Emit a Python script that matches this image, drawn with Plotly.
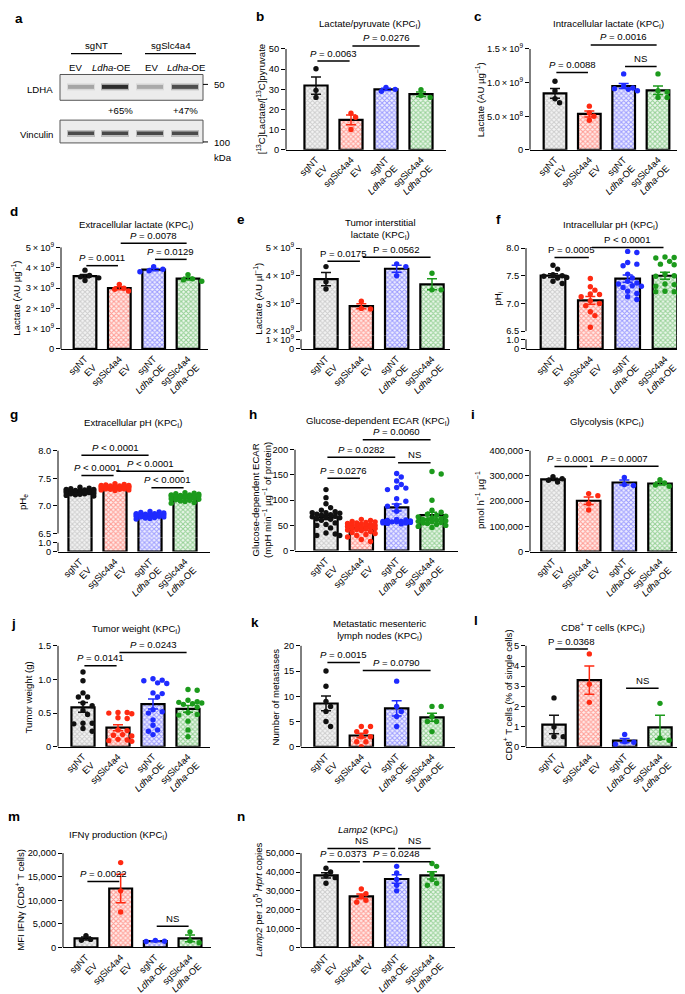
import numpy as np
import plotly.graph_objects as go

W, H = 685, 994
FONT = "Liberation Sans, Arial, sans-serif"
TICK_FS = 9.3
TXT_FS = 9.6
LETTER_FS = 13.5
TS = "\u2009"  # thin space used around the multiplication sign

# ---------------- categories / colours ----------------
groups = ["sgNT<br>EV", "sgSlc4a4<br>EV", "sgNT<br><i>Ldha</i>-OE", "sgSlc4a4<br><i>Ldha</i>-OE"]
point_colors = ["#111111", "#ff2a12", "#1f2bff", "#1c9a1c"]
fill_fg = ["#a9a9a9", "#ff4a3c", "#4c4cff", "#40aa40"]
fill_bg = ["#f4f4f4", "#fff0ee", "#f0f0ff", "#eef8ee"]

# ---------------- panel a (western blot) ----------------
blot_genotypes = ["sgNT", "sgSlc4a4"]
blot_lanes = ["EV", "<i>Ldha</i>-OE", "EV", "<i>Ldha</i>-OE"]
ldha_band = [0.32, 1.0, 0.30, 0.78]
vinculin_band = [0.8, 0.82, 0.82, 0.8]
ldha_change = ["+65%", "+47%"]
mw_markers = ["50", "100"]

# ---------------- data (per group: sgNT EV, sgSlc4a4 EV, sgNT Ldha-OE, sgSlc4a4 Ldha-OE) ----------------
b_vals = [[40.2, 29.5, 26.0], [18.2, 16.2, 10.1], [29.0, 31.0, 30.0], [26.0, 29.8, 27.0]]
c_vals = [[1.02e9, 0.88e9, 0.76e9, 0.70e9], [0.65e9, 0.55e9, 0.50e9, 0.44e9],
          [1.13e9, 0.95e9, 0.91e9, 0.92e9, 0.88e9, 0.90e9], [1.13e9, 0.88e9, 0.86e9, 0.78e9, 0.78e9]]
d_vals = [[3.88e9, 3.62e9, 3.55e9, 3.37e9, 3.50e9], [3.18e9, 2.99e9, 2.94e9, 2.85e9],
          [3.80e9, 3.92e9, 4.05e9, 3.85e9], [3.66e9, 3.45e9, 3.40e9, 3.33e9]]
e_vals = [[4.33e9, 3.78e9, 3.52e9], [3.08e9, 2.82e9, 2.80e9], [4.43e9, 4.33e9, 4.00e9], [4.09e9, 3.49e9, 3.49e9]]
f_vals = [[7.69, 7.62, 7.52, 7.50, 7.49, 7.47, 7.46, 7.40, 7.36],
          [7.45, 7.30, 7.24, 7.17, 7.16, 7.12, 7.05, 7.00, 6.96, 6.85, 6.78, 6.57],
          [7.94, 7.92, 7.74, 7.71, 7.68, 7.53, 7.46, 7.40, 7.37, 7.35, 7.32, 7.31, 7.29, 7.22, 7.18, 7.12, 7.07],
          [7.84, 7.83, 7.82, 7.76, 7.71, 7.70, 7.53, 7.50, 7.49, 7.35, 7.34, 7.31, 7.22, 7.21, 7.21, 7.18]]
g_vals = [[7.34, 7.32, 7.31, 7.30, 7.30, 7.29, 7.28, 7.28, 7.27, 7.27, 7.26, 7.26, 7.25, 7.25, 7.24, 7.24,
           7.23, 7.22, 7.21, 7.20, 7.19, 7.18, 7.22, 7.26],
          [7.40, 7.39, 7.38, 7.37, 7.37, 7.36, 7.35, 7.35, 7.34, 7.34, 7.33, 7.33, 7.32, 7.32, 7.31, 7.31,
           7.30, 7.30, 7.29, 7.29, 7.28, 7.36, 7.33, 7.35],
          [6.90, 6.89, 6.88, 6.87, 6.86, 6.86, 6.85, 6.84, 6.84, 6.83, 6.83, 6.82, 6.82, 6.81, 6.80, 6.80,
           6.79, 6.78, 6.77, 6.76, 6.85, 6.81, 6.84],
          [7.24, 7.23, 7.22, 7.21, 7.20, 7.20, 7.19, 7.18, 7.18, 7.17, 7.16, 7.16, 7.15, 7.14, 7.13, 7.12,
           7.11, 7.10, 7.09, 7.08, 7.06, 7.05, 7.19, 7.15]]
h_vals = [[121, 105, 93, 85, 80, 77, 75, 75, 74, 72, 71, 70, 68, 67, 66, 65, 63, 60, 55, 52, 50, 45, 62, 35, 30, 33, 30],
          [62, 60, 58, 57, 56, 55, 54, 53, 52, 51, 50, 50, 49, 48, 47, 46, 45, 44, 43, 42, 41, 40, 38, 36, 34, 32,
           30, 27, 22, 18],
          [153, 146, 138, 131, 125, 124, 121, 103, 98, 90, 88, 78, 62, 61, 60, 59, 58, 58, 57, 57, 56, 55, 55, 54, 53],
          [157, 152, 100, 80, 76, 72, 70, 68, 67, 65, 64, 62, 61, 60, 59, 58, 57, 56, 55, 54, 52, 50, 48, 46]]
i_vals = [[297000, 289000, 283000, 276000], [230000, 222000, 190000, 165000],
          [294000, 266000, 262000], [285000, 272000, 264000, 259000]]
j_vals = [[1.11, 0.98, 0.80, 0.74, 0.74, 0.65, 0.61, 0.54, 0.48, 0.35, 0.35, 0.34, 0.27, 0.23],
          [0.51, 0.51, 0.50, 0.49, 0.43, 0.42, 0.25, 0.24, 0.18, 0.17, 0.16, 0.11, 0.10, 0.08, 0.09],
          [1.01, 0.99, 0.98, 0.95, 0.94, 0.80, 0.79, 0.74, 0.55, 0.52, 0.50, 0.40, 0.32, 0.23, 0.18, 0.25],
          [0.85, 0.84, 0.69, 0.67, 0.66, 0.65, 0.64, 0.63, 0.59, 0.51, 0.48, 0.47, 0.38, 0.25, 0.15]]
k_vals = [[15, 12, 9, 8, 7, 5, 4], [4, 4, 3, 3, 2, 2, 1, 1, 0], [13, 8, 7, 6, 4], [8, 8, 6, 5, 5, 3]]
l_vals = [[2.42, 0.98, 0.50, 0.50], [4.6, 3.1, 2.2], [0.61, 0.25, 0.22, 0.12], [2.15, 0.42, 0.32]]
m_vals = [[2500, 1700, 1500], [18000, 12000, 7500], [1500, 1300, 1250], [3300, 1400, 1000]]
n_vals = [[42000, 40000, 38000, 37000, 34000], [31000, 28500, 27000, 25000, 24000],
          [43000, 39500, 36000, 33000, 30000], [44500, 43000, 39000, 36000, 33000, 34000]]

# significance brackets: (group from, group to, level, label)
b_sig = [(0, 1, 44, "P = 0.0063"), (1, 3, 51.5, "P = 0.0276")]
c_sig = [(0, 1, 1.15e9, "P = 0.0088"), (1, 3, 1.56e9, "P = 0.0016"), (2, 3, 1.24e9, "NS")]
d_sig = [(0, 1, 4.10e9, "P = 0.0011"), (1, 3, 5.2e9, "P = 0.0078"), (2, 3, 4.41e9, "P = 0.0129")]
e_sig = [(0, 1, 4.52e9, "P = 0.0175"), (1, 3, 4.67e9, "P = 0.0562")]
f_sig = [(0, 1, 7.83, "P = 0.0005"), (1, 3, 8.01, "P < 0.0001")]
g_sig = [(0, 2, 7.92, "P < 0.0001"), (0, 1, 7.55, "P < 0.0001"), (1, 3, 7.63, "P < 0.0001"), (2, 3, 7.33, "P < 0.0001")]
h_sig = [(0, 1, 143.6, "P = 0.0276"), (0, 2, 185, "P = 0.0282"), (1, 3, 220, "P = 0.0060"), (2, 3, 174, "NS")]
i_sig = [(0, 1, 337000, "P = 0.0001"), (1, 3, 338000, "P = 0.0007")]
j_sig = [(0, 1, 1.205, "P = 0.0141"), (1, 3, 1.40, "P = 0.0243")]
k_sig = [(0, 1, 16.7, "P = 0.0015"), (1, 3, 15.1, "P = 0.0790")]
l_sig = [(0, 1, 4.84, "P = 0.0368"), (2, 3, 2.90, "NS")]
m_sig = [(0, 1, 14000, "P = 0.0022"), (2, 3, 4500, "NS")]
n_sig = [(0, 2, 52500, "NS"), (2, 3, 52500, "NS"), (0, 1, 45500, "P = 0.0373"), (1, 3, 45500, "P = 0.0248")]

# ---------------- helpers ----------------
fig = go.Figure()
shapes, annotations, axes = [], [], {}


def X(px):
    return px / W


def Y(py):
    return 1 - py / H


def ref(p, k):
    return f"{p}{'' if k == 1 else k}"


def axkey(p, k):
    return f"{p}axis{'' if k == 1 else k}"


def text(x, y, s, size=TXT_FS, xanchor="center", yanchor="middle", angle=0):
    annotations.append(dict(xref="paper", yref="paper", x=X(x), y=Y(y), text=s, showarrow=False,
                            xanchor=xanchor, yanchor=yanchor, textangle=angle,
                            font=dict(size=size, family=FONT, color="black")))


def prect(x0, y0, x1, y1, fill, line=None, lw=0, opacity=1.0):
    shapes.append(dict(type="rect", xref="paper", yref="paper", x0=X(x0), x1=X(x1), y0=Y(y1), y1=Y(y0),
                       fillcolor=fill, opacity=opacity, line=dict(color=line or fill, width=lw), layer="above"))


def pline(x0, y0, x1, y1, w=1.2, color="black"):
    shapes.append(dict(type="line", xref="paper", yref="paper", x0=X(x0), x1=X(x1), y0=Y(y0), y1=Y(y1),
                       line=dict(color=color, width=w), layer="above"))


def swarm(vals, ppu_y, ppu_x, size, maxk=3):
    vals = np.asarray(vals, float)
    order = np.argsort(-vals, kind="stable")
    offs = np.zeros(len(vals))
    placed = []
    step = size * 0.85
    cands = [0]
    for kk in range(1, maxk + 1):
        cands += [kk, -kk]
    for idx in order:
        yp = vals[idx] * ppu_y
        best, bestc = 0.0, None
        for c in cands:
            xp = c * step
            cost = sum(max(0.0, size - np.hypot(xp - a, yp - b)) for a, b in placed)
            if bestc is None or cost < bestc - 1e-9:
                best, bestc = xp, cost
            if cost == 0:
                break
        placed.append((best, yp))
        offs[idx] = best / ppu_x
    return offs


def yaxis_dict(dom_top, dom_bot, rng, xref_, ticks, ticktext):
    return dict(domain=[Y(dom_bot), Y(dom_top)], range=rng, anchor=xref_, tickvals=ticks, ticktext=ticktext,
                showline=False, ticks="outside", ticklen=4, tickwidth=1, tickcolor="black", showgrid=False,
                zeroline=False, fixedrange=True, tickfont=dict(size=TICK_FS, family=FONT, color="black"))


def panel(k, vals, xl, xr, c0, c3, ymap, top, bottom, ticks, ticktext, sig, lower=None, italic=True, msize=5.4):
    u = (c3 - c0) / 3.0
    xrng = [(xl - c0) / u, (xr - c0) / u]
    (va, pa), (vb, pb) = ymap
    upp = (vb - va) / (pa - pb)
    yrng = [va - (bottom - pa) * upp, va + (pa - top) * upp]
    xr_, yr_ = ref("x", k), ref("y", k)
    anchor_y = yr_
    yr2 = None
    if lower:
        k2 = lower["k"]
        yr2 = ref("y", k2)
        anchor_y = yr2
        (la, lpa), (lb, lpb) = lower["ymap"]
        upp2 = (lb - la) / (lpa - lpb)
        rng2 = [la - (lower["bottom"] - lpa) * upp2, la + (lpa - lower["top"]) * upp2]
        axes[axkey("y", k2)] = yaxis_dict(lower["top"], lower["bottom"], rng2, xr_, lower["ticks"], lower["ticktext"])
        shapes.append(dict(type="line", xref=f"{xr_} domain", yref=yr2, x0=0, x1=0, y0=lower["ticks"][0],
                           y1=lower["ticks"][-1], line=dict(color="black", width=1)))
    axes[axkey("x", k)] = dict(domain=[X(xl), X(xr)], range=xrng, anchor=anchor_y, tickvals=[0, 1, 2, 3],
                               ticktext=groups, tickangle=-45, showline=True, linecolor="black", linewidth=1,
                               ticks="", showgrid=False, zeroline=False,
                               fixedrange=True, tickfont=dict(size=TICK_FS, family=FONT, color="black"))
    axes[axkey("y", k)] = yaxis_dict(top, bottom, yrng, xr_, ticks, ticktext)
    shapes.append(dict(type="line", xref=f"{xr_} domain", yref=yr_, x0=0, x1=0, y0=ticks[0], y1=ticks[-1],
                       line=dict(color="black", width=1)))
    for i in range(4):
        v = np.asarray(vals[i], float)
        mean = v.mean()
        sem = v.std(ddof=1) / np.sqrt(len(v))
        marker = dict(color=fill_bg[i], line=dict(color="black", width=2.2),
                      pattern=dict(shape="x", fgcolor=fill_fg[i], bgcolor=fill_bg[i], size=3.4, solidity=0.55))
        fig.add_trace(go.Bar(x=[i], y=[mean], width=0.66, marker=marker, xaxis=xr_, yaxis=yr_,
                             error_y=dict(type="data", array=[sem], color=point_colors[i], thickness=1.5, width=5),
                             showlegend=False, hoverinfo="skip"))
        if lower:
            fig.add_trace(go.Bar(x=[i], y=[mean], width=0.66, marker=marker, xaxis=xr_, yaxis=yr2,
                                 showlegend=False, hoverinfo="skip"))
        offs = swarm(v, 1.0 / upp, u, msize)
        fig.add_trace(go.Scatter(x=i + offs, y=v, mode="markers", xaxis=xr_, yaxis=yr_,
                                 marker=dict(color=point_colors[i], size=msize, line=dict(width=0)),
                                 showlegend=False, hoverinfo="skip"))
    for i0, i1, lvl, lab in sig:
        shapes.append(dict(type="line", xref=xr_, yref=yr_, x0=i0 + 0.04, x1=i1 - 0.04, y0=lvl, y1=lvl,
                           line=dict(color="black", width=1.5)))
        if italic and lab.startswith("P"):
            lab = "<i>P</i>" + lab[1:]
        annotations.append(dict(xref=xr_, yref=yr_, x=(i0 + i1) / 2, y=lvl, text=lab, showarrow=False,
                                yanchor="bottom", yshift=0.5, font=dict(size=TXT_FS, family=FONT, color="black")))


# ---------------- panel a : blot ----------------
text(5, 8, "<b>a</b>", size=LETTER_FS, xanchor="left")
text(88, 35, blot_genotypes[0])
text(163, 35, blot_genotypes[1])
pline(63, 43, 114, 43, w=1.3)
pline(137, 43, 188, 43, w=1.3)
lane_centres = [73, 107, 142, 177]
lane_half = 14
for lc, lab in zip([67, 103, 143, 178], blot_lanes):
    text(lc, 57, lab)
prect(52, 64, 195, 90, "#ececec", line="#555555", lw=1)
prect(52, 110, 195, 133, "#ececec", line="#555555", lw=1)
for lc, a in zip(lane_centres, ldha_band):
    prect(lc - lane_half, 73, lc + lane_half, 80, "#000000", opacity=0.25 * a)
    prect(lc - lane_half + 1, 74.5, lc + lane_half - 1, 78.5, "#000000", opacity=0.75 * a)
for lc, a in zip(lane_centres, vinculin_band):
    prect(lc - lane_half, 120, lc + lane_half, 127, "#000000", opacity=0.25 * a)
    prect(lc - lane_half + 1, 121.5, lc + lane_half - 1, 125, "#000000", opacity=0.75 * a)
text(47, 79, "LDHA", xanchor="right")
text(47, 125, "Vinculin", xanchor="right")
text(112, 100, ldha_change[0])
text(177, 100, ldha_change[1])
pline(195, 74, 200, 74, w=1)
pline(195, 132, 200, 132, w=1)
text(204, 74, mw_markers[0], xanchor="left")
text(204, 133, mw_markers[1], xanchor="left")
text(204, 148, "kDa", xanchor="left")

# ---------------- panels b - n ----------------
KPC = " (KPC<sub>I</sub>)"
e9 = lambda n: f"{n}{TS}×{TS}10<sup>9</sup>"

panel(1, b_vals, 278, 438, 308, 413, [(0, 140), (50, 38.3)], 20, 140,
      [0, 10, 20, 30, 40, 50], ["0", "10", "20", "30", "40", "50"], b_sig)
text(252, 6, "<b>b</b>", size=LETTER_FS)
text(362, 13, "Lactate/pyruvate" + KPC)
text(253, 89, "[<sup>13</sup>C]Lactate/[<sup>13</sup>C]pyruvate", angle=-90)

panel(2, c_vals, 522, 680, 547, 650, [(0, 140), (1.5e9, 38.3)], 20, 140,
      [0, 5e8, 1e9, 1.5e9], ["0", f"5.0{TS}×{TS}10<sup>8</sup>", f"1.0{TS}×{TS}10<sup>9</sup>", f"1.5{TS}×{TS}10<sup>9</sup>"], c_sig)
text(470, 6, "<b>c</b>", size=LETTER_FS)
text(600, 13, "Intracellular lactate" + KPC)
text(472, 90, "Lactate (AU µg<sup>−1</sup>)", angle=-90)

panel(3, d_vals, 53, 200, 77, 180, [(0, 340.7), (5e9, 238.3)], 225, 340.7,
      [0, 1e9, 2e9, 3e9, 4e9, 5e9], ["0"] + [e9(n) for n in range(1, 6)], d_sig)
text(6, 202, "<b>d</b>", size=LETTER_FS)
text(128, 216, "Extracellular lactate" + KPC)
text(8, 290, "Lactate (AU µg<sup>−1</sup>)", angle=-90)

panel(4, e_vals, 293, 442, 318, 424, [(2e9, 322.7), (5e9, 239)], 225, 327,
      [2e9, 3e9, 4e9, 5e9], [e9(n) for n in range(2, 6)], e_sig, italic=False,
      lower=dict(k=5, ymap=[(0, 340.7), (1e9, 331)], top=327, bottom=340.7, ticks=[0, 1e9], ticktext=["0", e9(1)]))
text(233, 210, "<b>e</b>", size=LETTER_FS)
text(372, 220, "Tumor interstitial<br>lactate" + KPC)
text(250, 290, "Lactate (AU µl<sup>−1</sup>)", angle=-90)

panel(6, f_vals, 518, 677, 545, 657, [(6.5, 322.7), (8.0, 239)], 225, 327,
      [6.5, 7.0, 7.5, 8.0], ["6.5", "7.0", "7.5", "8.0"], f_sig, italic=False,
      lower=dict(k=7, ymap=[(0, 340.7), (1.0, 331)], top=327, bottom=340.7, ticks=[0, 1.0], ticktext=["0", "1.0"]))
text(490, 210, "<b>f</b>", size=LETTER_FS)
text(602, 216, "Intracellular pH" + KPC)
text(490, 290, "pH<sub>i</sub>", angle=-90)

panel(8, g_vals, 50, 202, 72, 177, [(6.5, 526.7), (8.0, 443.3)], 430, 531,
      [6.5, 7.0, 7.5, 8.0], ["6.5", "7.0", "7.5", "8.0"], g_sig,
      lower=dict(k=9, ymap=[(0, 545), (1.0, 536)], top=531, bottom=545, ticks=[0, 1.0], ticktext=["0", "1.0"]))
text(6, 407, "<b>g</b>", size=LETTER_FS)
text(125, 415, "Extracellular pH" + KPC)
text(15, 495, "pH<sub>e</sub>", angle=-90)

panel(10, h_vals, 287, 450, 318, 424, [(0, 544), (200, 442.3)], 425, 544,
      [0, 50, 100, 150, 200], ["0", "50", "100", "150", "200"], h_sig)
text(245, 407, "<b>h</b>", size=LETTER_FS)
text(370, 413, "Glucose-dependent ECAR" + KPC)
text(253, 493, "Glucose-dependent ECAR<br>(mpH min<sup>−1</sup> µg<sup>−1</sup> of protein)", angle=-90)

panel(11, i_vals, 522, 680, 545, 652, [(0, 545), (400000, 443.3)], 430, 545,
      [0, 100000, 200000, 300000, 400000], ["0", "100,000", "200,000", "300,000", "400,000"], i_sig)
text(465, 407, "<b>i</b>", size=LETTER_FS)
text(599, 414, "Glycolysis" + KPC)
text(472, 493, "pmol h<sup>−1</sup> µg<sup>−1</sup>", angle=-90)

panel(12, j_vals, 50, 202, 75, 180, [(0, 741.7), (1.5, 640)], 632, 741.7,
      [0, 0.5, 1.0, 1.5], ["0", "0.5", "1.0", "1.5"], j_sig)
text(5, 617, "<b>j</b>", size=LETTER_FS)
text(128, 623, "Tumor weight" + KPC)
text(20, 692, "Tumor weight (g)", angle=-90)

panel(13, k_vals, 293, 447, 318, 424, [(0, 741.7), (20, 640)], 636, 741.7,
      [0, 5, 10, 15, 20], ["0", "5", "10", "15", "20"], k_sig)
text(247, 616, "<b>k</b>", size=LETTER_FS)
text(372, 624, "Metastatic mesenteric<br>lymph nodes" + KPC)
text(267, 692, "Number of metastases", angle=-90)

panel(14, l_vals, 518, 677, 546, 652, [(0, 741.7), (5, 640)], 632, 741.7,
      [0, 1, 2, 3, 4, 5], ["0", "1", "2", "3", "4", "5"], l_sig, italic=False)
text(468, 614, "<b>l</b>", size=LETTER_FS)
text(595, 621, "CD8<sup>+</sup> T cells" + KPC)
text(500, 690, "CD8<sup>+</sup> T cells (% of single cells)", angle=-90)

panel(15, m_vals, 55, 203, 78, 182, [(0, 944), (20000, 849)], 840, 944,
      [0, 5000, 10000, 15000, 20000], ["0", "5,000", "10,000", "15,000", "20,000"], m_sig)
text(6, 812, "<b>m</b>", size=LETTER_FS)
text(110, 831, "IFNγ production" + KPC)
text(12, 896, "MFI IFNγ (CD8<sup>+</sup> T cells)", angle=-90)

panel(16, n_vals, 293, 447, 318, 424, [(0, 944), (50000, 849)], 830, 944,
      [0, 10000, 20000, 30000, 40000, 50000], ["0", "10,000", "20,000", "30,000", "40,000", "50,000"], n_sig)
text(233, 812, "<b>n</b>", size=LETTER_FS)
text(360, 826, "<i>Lamp2</i>" + KPC)
text(250, 896, "<i>Lamp2</i> per 10<sup>5</sup> <i>Hprt</i> copies", angle=-90)

fig.update_layout(width=W, height=H, autosize=False, margin=dict(l=0, r=0, t=0, b=0),
                  paper_bgcolor="white", plot_bgcolor="white", barmode="overlay", showlegend=False,
                  font=dict(family=FONT, size=TICK_FS, color="black"),
                  shapes=shapes, annotations=annotations, **axes)
fig.write_html("out.html")
